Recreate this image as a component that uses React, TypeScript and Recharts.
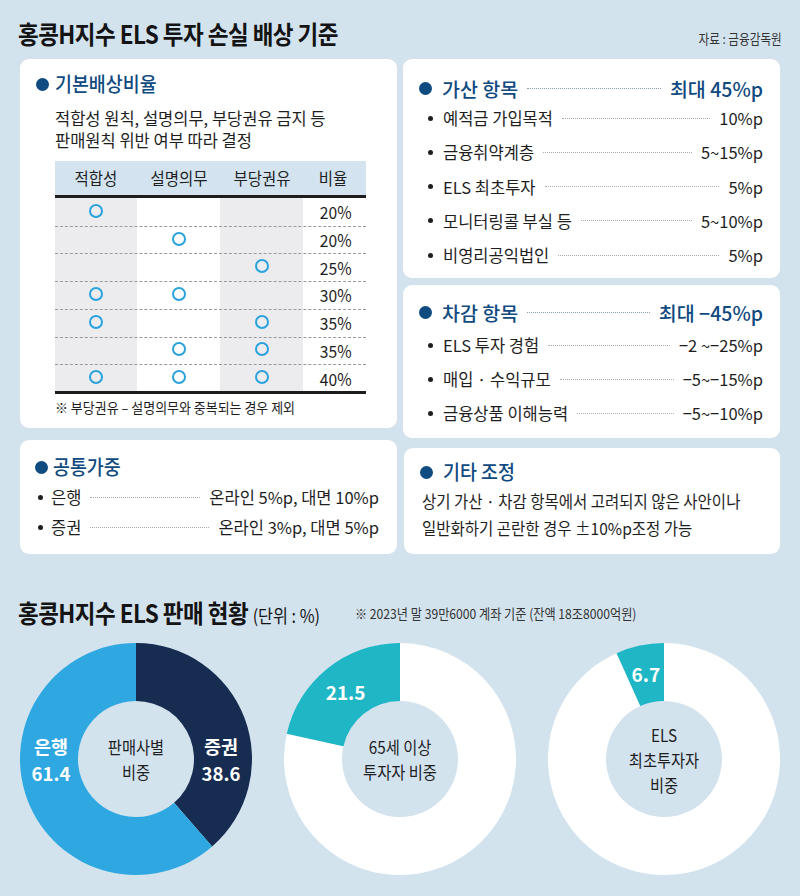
import React from 'react'
import { PieChart, Pie, Cell } from 'recharts'

const W = 800
const H = 896
const BG = '#d3e3ee'
const NAVY = '#0f4a80'
const TEXT = '#1e1e1e'
const FONT = '"Noto Sans CJK KR", "Noto Sans", sans-serif'

// 기본배상비율 표
const tableHeaders = ['적합성', '설명의무', '부당권유', '비율']
const suitability = [1, 0, 0, 1, 1, 0, 1]
const explanation = [0, 1, 0, 1, 0, 1, 1]
const solicitation = [0, 0, 1, 0, 1, 1, 1]
const baseRatios = [20, 20, 25, 30, 35, 35, 40]

// 가산 항목
const addItems = ['예적금 가입목적', '금융취약계층', 'ELS 최초투자', '모니터링콜 부실 등', '비영리공익법인']
const addValues = ['10%p', '5~15%p', '5%p', '5~10%p', '5%p']

// 차감 항목
const subItems = ['ELS 투자 경험', '매입 · 수익규모', '금융상품 이해능력']
const subValues = ['−2 ~−25%p', '−5~−15%p', '−5~−10%p']

// 공통가중
const commonItems = ['은행', '증권']
const commonValues = ['온라인 5%p, 대면 10%p', '온라인 3%p, 대면 5%p']

// 판매 현황 (단위 : %)
const sellerNames = ['증권', '은행']
const sellerShares = [38.6, 61.4]
const seniorNames = ['기타', '65세 이상']
const seniorShares = [78.5, 21.5]
const firstNames = ['기타', 'ELS 최초투자자']
const firstShares = [93.3, 6.7]

const Txt = ({ x, y, size, color = TEXT, weight = 400, align = 'left', sx = 1, children, style = {} }: any) => {
  const h = Math.round(size * 1.6)
  const pos: any =
    align === 'right' ? { right: W - x } : align === 'center' ? { left: x - 200, width: 400, textAlign: 'center' } : { left: x }
  return (
    <div
      style={{
        position: 'absolute',
        top: y - h / 2,
        height: h,
        lineHeight: `${h}px`,
        fontSize: size,
        fontWeight: weight,
        color,
        whiteSpace: 'nowrap',
        transform: sx !== 1 ? `scaleX(${sx})` : undefined,
        transformOrigin: align === 'right' ? 'right center' : align === 'center' ? 'center center' : 'left center',
        ...pos,
        ...style,
      }}
    >
      {children}
    </div>
  )
}

const Dot = ({ x, y, r, color }: any) => (
  <div style={{ position: 'absolute', left: x - r, top: y - r, width: r * 2, height: r * 2, borderRadius: '50%', background: color }} />
)

const Panel = ({ x, y, w, h }: any) => (
  <div style={{ position: 'absolute', left: x, top: y, width: w, height: h, background: '#ffffff', borderRadius: 9 }} />
)

const LeaderRow = ({ left, right, y, label, value, size, color = TEXT, leader = '#a8adb3', weight = 400 }: any) => (
  <div
    style={{
      position: 'absolute',
      left,
      width: right - left,
      top: y - 14,
      height: 28,
      display: 'flex',
      alignItems: 'center',
      fontSize: size,
      fontWeight: weight,
      color,
      whiteSpace: 'nowrap',
    }}
  >
    <span>{label}</span>
    <div style={{ flex: 1, borderTop: `1.5px dotted ${leader}`, margin: '0 9px', height: 0 }} />
    <span>{value}</span>
  </div>
)

// 기본배상비율 표
const RatioTable = () => {
  const left = 55
  const colW = [82, 83, 83, 63]
  const colX = colW.map((_, i) => left + colW.slice(0, i).reduce((a, b) => a + b, 0))
  const tableW = colW.reduce((a, b) => a + b, 0)
  const headTop = 161
  const rowTop = 198
  const rowH = 27.7
  const marks = [suitability, explanation, solicitation]
  return (
    <>
      <div style={{ position: 'absolute', left, top: headTop, width: tableW, height: 35, background: '#d3e4f0' }} />
      {tableHeaders.map((t, i) => (
        <Txt key={t} x={colX[i] + colW[i] / 2 - (i === 3 ? 2 : 0)} y={178} size={16.5} sx={0.94} align="center">
          {t}
        </Txt>
      ))}
      {[0, 2].map((c) => (
        <div
          key={c}
          style={{ position: 'absolute', left: colX[c], top: rowTop, width: colW[c], height: rowH * baseRatios.length, background: '#ececef' }}
        />
      ))}
      <div style={{ position: 'absolute', left, top: 195, width: tableW, height: 3, background: '#1d1d1d' }} />
      {baseRatios.map((v, r) => (
        <React.Fragment key={r}>
          {r > 0 && (
            <div
              style={{ position: 'absolute', left, top: rowTop + r * rowH, width: tableW, height: 0, borderTop: '1px dashed #9a9a9a' }}
            />
          )}
          {marks.map((m, c) =>
            m[r] ? (
              <div
                key={c}
                style={{
                  position: 'absolute',
                  left: colX[c] + colW[c] / 2 - 7,
                  top: rowTop + r * rowH + rowH / 2 - 8,
                  width: 14,
                  height: 14,
                  boxSizing: 'border-box',
                  border: '2.5px solid #2aa3dd',
                  borderRadius: '50%',
                }}
              />
            ) : null
          )}
          <Txt x={352} y={rowTop + r * rowH + rowH / 2} size={17} sx={0.92} align="right">
            {v}%
          </Txt>
        </React.Fragment>
      ))}
      <div style={{ position: 'absolute', left, top: rowTop + rowH * baseRatios.length - 1, width: tableW, height: 3, background: '#1d1d1d' }} />
    </>
  )
}

const Donut = ({ names, values, colors, cx, cy, center, split }: any) => {
  const data = names.map((name: string, i: number) => ({ name, value: values[i] }))
  const size = 240
  const inner = 58
  const outer = 116
  const renderLabel = (p: any) => {
    const rad = (p.innerRadius + p.outerRadius) / 2
    const a = (-p.midAngle * Math.PI) / 180
    if (split) {
      const x = p.cx + Math.sign(Math.cos(a)) * (rad - 2)
      return (
        <text x={x} y={p.cy} fill="#ffffff" fontSize={18.5} fontWeight={700} textAnchor="middle" fontFamily={FONT}>
          <tspan x={x} dy={-5}>{p.name}</tspan>
          <tspan x={x} dy={27}>{p.value}</tspan>
        </text>
      )
    }
    if (p.index !== 1) return null
    const x = p.cx + rad * Math.cos(a)
    const y = p.cy + rad * Math.sin(a)
    return (
      <text x={x} y={y} fill="#ffffff" fontSize={19} fontWeight={700} textAnchor="middle" dominantBaseline="central" fontFamily={FONT}>
        {p.value}
      </text>
    )
  }
  return (
    <div style={{ position: 'absolute', left: cx - size / 2, top: cy - size / 2, width: size, height: size }}>
      <PieChart width={size} height={size} margin={{ top: 0, right: 0, bottom: 0, left: 0 }}>
        <Pie
          data={data}
          dataKey="value"
          nameKey="name"
          cx="50%"
          cy="50%"
          innerRadius={inner}
          outerRadius={outer}
          startAngle={90}
          endAngle={-270}
          stroke="none"
          labelLine={false}
          label={renderLabel}
          isAnimationActive={false}
        >
          {data.map((d: any, i: number) => (
            <Cell key={d.name} fill={colors[i]} />
          ))}
        </Pie>
      </PieChart>
      <div
        style={{
          position: 'absolute',
          left: '50%',
          top: '50%',
          transform: 'translate(-50%, -50%) scaleX(0.9)',
          textAlign: 'center',
          whiteSpace: 'nowrap',
          fontSize: 17,
          lineHeight: '25px',
          color: TEXT,
          pointerEvents: 'none',
        }}
      >
        {center.map((t: string) => (
          <div key={t}>{t}</div>
        ))}
      </div>
    </div>
  )
}

export default function App() {
  return (
    <div style={{ position: 'absolute', left: 0, top: 0, width: W, height: H, background: BG, fontFamily: FONT, color: TEXT, overflow: 'hidden' }}>
      <Txt x={18} y={33} size={25} weight={700} sx={0.9} color="#141414" style={{ letterSpacing: -0.6 }}>
        홍콩H지수 ELS 투자 손실 배상 기준
      </Txt>
      <Txt x={782} y={38} size={13.5} sx={0.86} align="right" color="#333">
        자료 : 금융감독원
      </Txt>

      {/* 기본배상비율 */}
      <Panel x={20} y={59} w={377} h={369} />
      <Dot x={42} y={84} r={6.5} color={NAVY} />
      <Txt x={55} y={84} size={20} weight={500} sx={0.92} color={NAVY}>
        기본배상비율
      </Txt>
      <Txt x={55} y={118} size={16.5}>
        적합성 원칙, 설명의무, 부당권유 금지 등
      </Txt>
      <Txt x={55} y={140} size={16.5}>
        판매원칙 위반 여부 따라 결정
      </Txt>
      <RatioTable />
      <Txt x={55} y={407} size={13.5} sx={0.96}>
        ※ 부당권유 – 설명의무와 중복되는 경우 제외
      </Txt>

      {/* 가산 항목 */}
      <Panel x={403} y={59} w={377} h={219} />
      <Dot x={425} y={88} r={6.5} color={NAVY} />
      <LeaderRow left={442} right={763} y={88} label="가산 항목" value="최대 45%p" size={19.5} weight={500} color={NAVY} leader="#8a9cb0" />
      {addItems.map((t, i) => (
        <React.Fragment key={t}>
          <Dot x={430} y={118 + i * 34.3} r={2.5} color={TEXT} />
          <LeaderRow left={443} right={763} y={118 + i * 34.3} label={t} value={addValues[i]} size={16.5} />
        </React.Fragment>
      ))}

      {/* 차감 항목 */}
      <Panel x={403} y={285} w={377} h={153} />
      <Dot x={425} y={312} r={6.5} color={NAVY} />
      <LeaderRow left={442} right={763} y={312} label="차감 항목" value="최대 −45%p" size={19.5} weight={500} color={NAVY} leader="#8a9cb0" />
      {subItems.map((t, i) => (
        <React.Fragment key={t}>
          <Dot x={430} y={345 + i * 34} r={2.5} color={TEXT} />
          <LeaderRow left={443} right={763} y={345 + i * 34} label={t} value={subValues[i]} size={16.5} />
        </React.Fragment>
      ))}

      {/* 공통가중 */}
      <Panel x={20} y={440} w={377} h={114} />
      <Dot x={41} y={467} r={6.5} color={NAVY} />
      <Txt x={53} y={467} size={20} weight={500} sx={0.92} color={NAVY}>
        공통가중
      </Txt>
      {commonItems.map((t, i) => (
        <React.Fragment key={t}>
          <Dot x={40} y={497 + i * 30} r={2.5} color={TEXT} />
          <LeaderRow left={51} right={379} y={497 + i * 30} label={t} value={commonValues[i]} size={16.5} />
        </React.Fragment>
      ))}

      {/* 기타 조정 */}
      <Panel x={404} y={448} w={376} h={106} />
      <Dot x={426} y={472} r={6.5} color={NAVY} />
      <Txt x={443} y={472} size={20} weight={500} sx={0.92} color={NAVY}>
        기타 조정
      </Txt>
      <Txt x={422} y={501} size={16.5} sx={0.94}>
        상기 가산 · 차감 항목에서 고려되지 않은 사안이나
      </Txt>
      <Txt x={422} y={528} size={16.5} sx={0.94}>
        일반화하기 곤란한 경우 ±10%p조정 가능
      </Txt>

      {/* 판매 현황 */}
      <Txt x={18} y={612} size={25} weight={700} sx={0.9} color="#141414" style={{ letterSpacing: -0.6 }}>
        홍콩H지수 ELS 판매 현황 <span style={{ fontSize: 18, fontWeight: 400, letterSpacing: 0 }}>(단위 : %)</span>
      </Txt>
      <Txt x={355} y={613} size={13.5} sx={0.9} color="#333">
        ※ 2023년 말 39만6000 계좌 기준 (잔액 18조8000억원)
      </Txt>

      <Donut names={sellerNames} values={sellerShares} colors={['#172c51', '#2fa8e1']} cx={136} cy={759} center={['판매사별', '비중']} split />
      <Donut names={seniorNames} values={seniorShares} colors={['#ffffff', '#1fb6c6']} cx={400} cy={759} center={['65세 이상', '투자자 비중']} />
      <Donut names={firstNames} values={firstShares} colors={['#ffffff', '#1fb6c6']} cx={664} cy={759} center={['ELS', '최초투자자', '비중']} />
    </div>
  )
}
